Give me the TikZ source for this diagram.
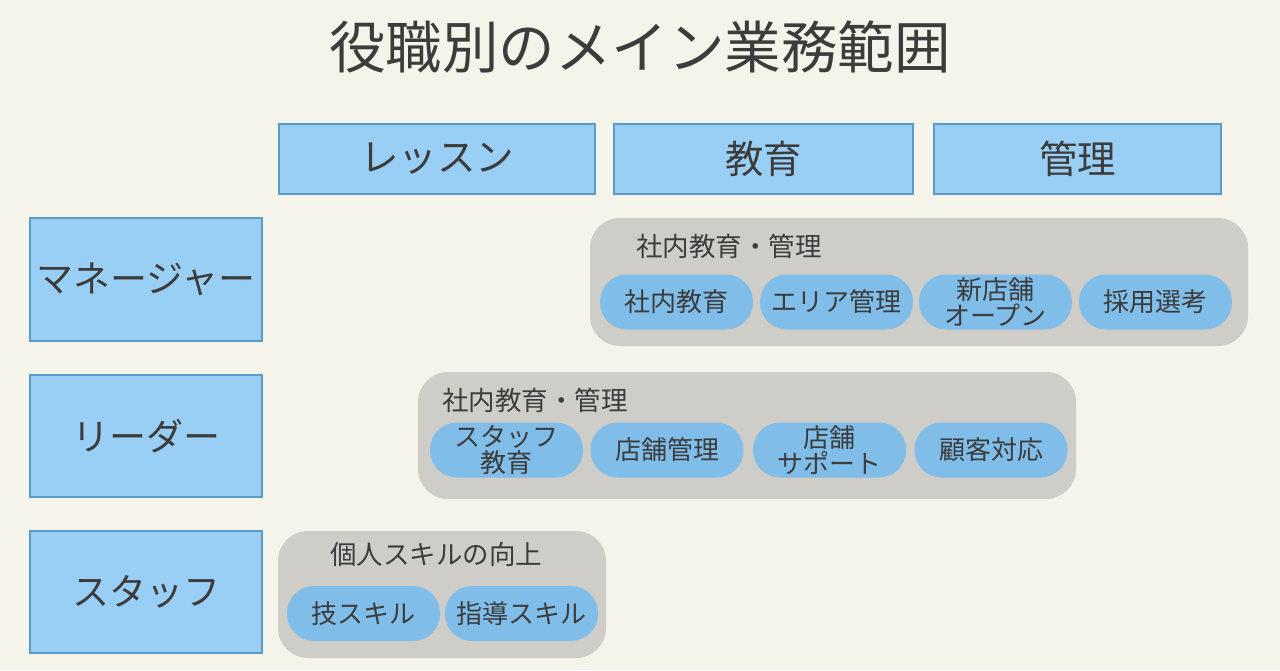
\documentclass[tikz,border=0pt]{standalone}
\usepackage{fontspec}
\setmainfont{Noto Sans CJK JP}
\definecolor{bgcol}{HTML}{F5F4EA}
\definecolor{headfill}{HTML}{99CFF5}
\definecolor{headline}{HTML}{5A9BC8}
\definecolor{groupfill}{HTML}{CFCDC8}
\definecolor{pillfill}{HTML}{80BDE8}
\definecolor{inkcol}{HTML}{3C3C3C}
\tikzset{
    headbox/.style={draw=headline, line width=2pt, fill=headfill, text=inkcol,
        font=\fontsize{37}{40}\selectfont, inner sep=0pt},
    groupbox/.style={fill=groupfill, rounded corners=30pt, inner sep=0pt},
    grouplabel/.style={text=inkcol, font=\fontsize{26.5}{28}\selectfont, anchor=west, inner sep=0pt},
    pill/.style={fill=pillfill, rounded corners=27pt, minimum width=153pt, minimum height=55pt,
        text=inkcol, font=\fontsize{26}{26.5}\selectfont, align=center, inner sep=0pt},
}
\begin{document}
\begin{tikzpicture}[x=1pt, y=-1pt]
    \fill[bgcol] (0,0) rectangle (1280,670);
    \useasboundingbox (0,0) rectangle (1280,670);
    % title
    \node[text=inkcol, font=\fontsize{56.5}{60}\selectfont] (title) at (640,47) {役職別のメイン業務範囲};
    % column heads
    \node[headbox, minimum width=316pt, minimum height=70pt, font=\fontsize{38.5}{40}\selectfont] (lesson) at (437,159) {レッスン};
    \node[headbox, minimum width=299pt, minimum height=70pt, font=\fontsize{38.5}{40}\selectfont] (edu) at (763.5,159) {教育};
    \node[headbox, minimum width=287pt, minimum height=70pt, font=\fontsize{38.5}{40}\selectfont] (mgmt) at (1077.5,159) {管理};
    % row heads
    \node[headbox, minimum width=232pt, minimum height=123pt] (manager) at (146,279.5) {マネージャー};
    \node[headbox, minimum width=232pt, minimum height=122pt] (leader) at (146,436) {リーダー};
    \node[headbox, minimum width=232pt, minimum height=122pt] (staff) at (146,592) {スタッフ};
    % manager group
    \node[groupbox, minimum width=658pt, minimum height=128pt] (mgroup) at (919,282) {};
    \node[grouplabel] (mlabel) at (636,246) {社内教育・管理};
    \node[pill] (m1) at (676.5,302) {社内教育};
    \node[pill] (m2) at (836.5,302) {エリア管理};
    \node[pill] (m3) at (995.5,302) {新店舗\\オープン};
    \node[pill] (m4) at (1155.5,302) {採用選考};
    % leader group
    \node[groupbox, minimum width=658pt, minimum height=127pt] (lgroup) at (747,435.5) {};
    \node[grouplabel] (llabel) at (442,400) {社内教育・管理};
    \node[pill] (l1) at (506.5,450) {スタッフ\\教育};
    \node[pill] (l2) at (667,450) {店舗管理};
    \node[pill] (l3) at (829.5,450) {店舗\\サポート};
    \node[pill] (l4) at (991,450) {顧客対応};
    % staff group
    \node[groupbox, minimum width=328pt, minimum height=127pt] (sgroup) at (442,594.5) {};
    \node[grouplabel] (slabel) at (330,554) {個人スキルの向上};
    \node[pill] (s1) at (363.5,613.5) {技スキル};
    \node[pill] (s2) at (521.5,613.5) {指導スキル};
\end{tikzpicture}
\end{document}
